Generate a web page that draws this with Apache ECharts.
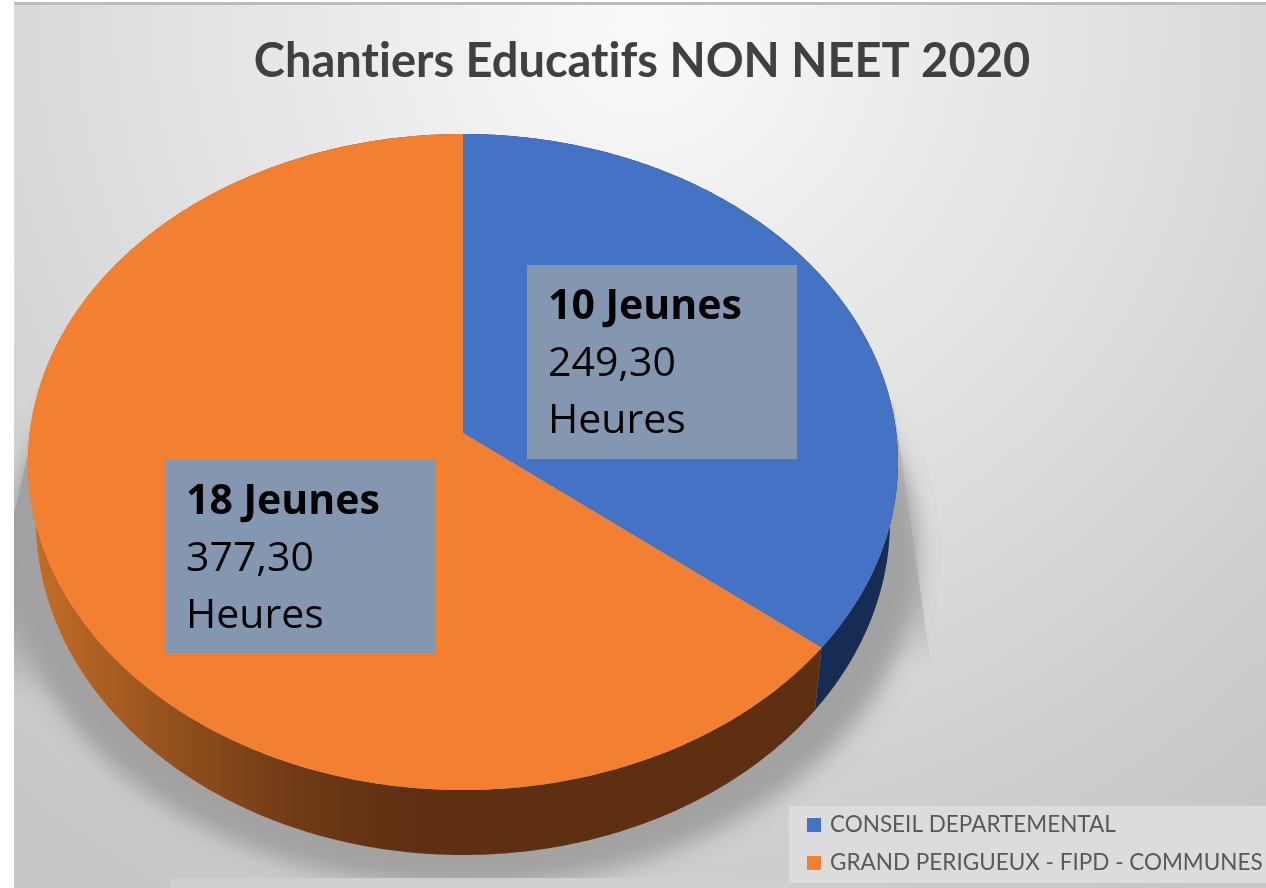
<!DOCTYPE html>
<html><head><meta charset="utf-8">
<style>html,body{margin:0;padding:0;background:#fff}#c{width:1266px;height:888px}</style>
<script src="https://cdn.jsdelivr.net/npm/echarts@6/dist/echarts.min.js"></script>
</head><body><div id="c"></div>
<script>
const chartTitle = 'Chantiers Educatifs NON NEET 2020';
const categories = ['CONSEIL DEPARTEMENTAL', 'GRAND PERIGUEUX - FIPD - COMMUNES'];
const jeunes = [10, 18];
const heures = ['249,30', '377,30'];
const total = jeunes.reduce((a, b) => a + b, 0);

const topRim = {cx: 463, cy: 462, rx: 435, ry: 328};
const lowRim = {cx: 463, cy: 521, rx: 427, ry: 334};
const tilt = 0.0884;
const topColors = ['#4472c4', '#f38030'];
const sideColors = [
  '#172c52',
  {type: 'linear', x: 30, y: 0, x2: 430, y2: 0, global: true, colorStops: [
    {offset: 0, color: '#c66d28'}, {offset: 0.42, color: '#8a4c1b'}, {offset: 0.67, color: '#703a16'}, {offset: 0.93, color: '#603012'}, {offset: 1, color: '#5f2f12'}]}
];
const boxes = [[527, 265, 270, 194], [165, 460, 271, 193]];

function proj(rim, deg) {
  const a = deg * Math.PI / 180, x = Math.sin(a), y = Math.cos(a);
  const d = 1 + tilt * y;
  const px = x * Math.sqrt(1 - tilt * tilt) / d, py = (y + tilt) / d;
  return [rim.cx + rim.rx * px, rim.cy - rim.ry * py];
}
function arc(rim, a0, a1) {
  const pts = [], n = Math.ceil(Math.abs(a1 - a0) * 2);
  for (let i = 0; i <= n; i++) pts.push(proj(rim, a0 + (a1 - a0) * i / n));
  return pts;
}
function renderSlice(idx) {
  return function () {
    const before = jeunes.slice(0, idx).reduce((a, b) => a + b, 0);
    const a0 = before / total * 360, a1 = (before + jeunes[idx]) / total * 360;
    const upper = arc(topRim, a0, a1);
    const lower = arc(lowRim, a0, a1).reverse();
    const c = [topRim.cx, topRim.cy - topRim.ry * tilt];
    const b = boxes[idx];
    return {type: 'group', children: [
      {type: 'polygon', shape: {points: upper.concat(lower)}, style: {fill: sideColors[idx]}},
      {type: 'polygon', shape: {points: [c].concat(upper)}, style: {fill: topColors[idx]}},
      {type: 'rect', shape: {x: b[0], y: b[1], width: b[2], height: b[3]}, style: {fill: '#8497b0'}},
      {type: 'text', x: b[0] + 21, y: b[1] + 14, style: {
        text: '{b|' + jeunes[idx] + ' Jeunes}\n{n|' + heures[idx] + '}\n{n|Heures}',
        rich: {
          b: {fontFamily: 'Open Sans', fontSize: 41, fontWeight: 'bold', fill: '#000', lineHeight: 57},
          n: {fontFamily: 'Open Sans', fontSize: 41, fill: '#000', lineHeight: 57}
        }
      }}
    ]};
  };
}
const shade = (stops) => ({type: 'linear', x: 0, y: stops[0][0], x2: 0, y2: stops[stops.length - 1][0], global: true,
  colorStops: stops.map(s => ({offset: (s[0] - stops[0][0]) / (stops[stops.length - 1][0] - stops[0][0]), color: 'rgba(0,0,0,' + s[1] + ')'}))});
const softShadow = () => ({type: 'ellipse', z: -7, silent: true, shape: {cx: 463 - 3000, cy: 555, rx: 448, ry: 325},
  style: {fill: '#000', shadowBlur: 26, shadowOffsetX: 3000, shadowColor: '#a2a2a2'}});
const option = {
  animation: false,
  title: {text: chartTitle, left: 637, top: 33, textAlign: 'center',
    textStyle: {fontFamily: 'Lato', fontWeight: 'bold', fontSize: 47, color: '#404040'}},
  legend: {orient: 'vertical', left: 807, top: 812, padding: 0, itemWidth: 14, itemHeight: 14, itemGap: 12,
    icon: 'rect', data: categories,
    textStyle: {fontFamily: 'Lato', fontSize: 22.5, color: '#595959', padding: [0, 0, 0, 4], height: 26, lineHeight: 26}},
  graphic: [
    {type: 'rect', z: -10, silent: true, shape: {x: 14, y: 3, width: 1252, height: 885},
      style: {fill: {type: 'radial', x: 640, y: 30, r: 1015, global: true, colorStops: [
        {offset: 0, color: '#fafafa'}, {offset: 0.62, color: '#d9d9d9'}, {offset: 0.79, color: '#cfcfcf'}, {offset: 1, color: '#c6c6c6'}]}}},
    {type: 'rect', z: -9, silent: true, shape: {x: 14, y: 2, width: 1252, height: 3}, style: {fill: '#bcbcbc'}},
    {type: 'polygon', z: -8, silent: true, shape: {points: [[893, 400], [931, 665], [870, 680]]},
      style: {fill: shade([[400, 0.12], [590, 0.16], [668, 0]])}},
    {type: 'polygon', z: -8, silent: true, shape: {points: [[30, 445], [14, 515], [14, 700], [60, 700]]},
      style: {fill: shade([[445, 0.26], [600, 0.22], [700, 0]])}},
    softShadow(), softShadow(),
    {type: 'rect', z: -6, silent: true, shape: {x: 0, y: 0, width: 14, height: 888}, style: {fill: '#fff'}},
    {type: 'rect', z: -6, silent: true, shape: {x: 170, y: 878, width: 620, height: 10}, style: {fill: '#cfcfcf'}},
    {type: 'rect', z: -5, silent: true, shape: {x: 789, y: 806, width: 477, height: 77}, style: {fill: '#dcdcdc'}}
  ],
  series: categories.map((name, i) => ({
    type: 'custom', name, coordinateSystem: 'none', silent: true,
    itemStyle: {color: topColors[i]},
    data: [jeunes[i]],
    renderItem: renderSlice(i)
  }))
};
const chart = echarts.init(document.getElementById('c'));
const layer = chart.getZr().painter.getLayer && chart.getZr().painter.getLayer(0);
if (layer && layer.ctx) layer.ctx.textRendering = 'optimizeSpeed';
chart.setOption(option);
</script></body></html>
